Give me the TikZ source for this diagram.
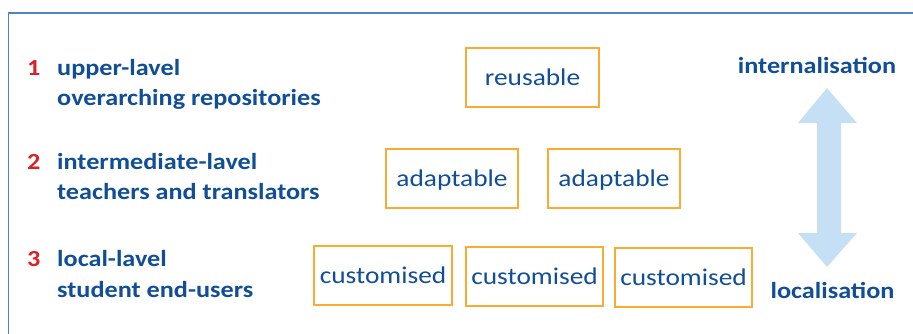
\documentclass[tikz,border=0pt]{standalone}
\usepackage{fontspec}
\setmainfont[FakeStretch=1.14]{Carlito}
\definecolor{txtblue}{RGB}{16,78,150}
\definecolor{numred}{RGB}{218,32,40}
\definecolor{boxorange}{RGB}{250,172,50}
\definecolor{arrowblue}{RGB}{197,224,244}
\definecolor{frameblue}{RGB}{84,130,190}
\tikzset{
  lbl/.style={inner sep=0pt, anchor=base west, text=txtblue, font=\fontsize{23}{27}\selectfont\bfseries},
  num/.style={inner sep=0pt, anchor=base west, text=numred, font=\fontsize{23}{27}\selectfont\bfseries},
  side/.style={inner sep=0pt, anchor=base, text=txtblue, font=\fontsize{23}{27}\selectfont\bfseries},
  cbox/.style={draw=boxorange, line width=1.2pt, text=txtblue, inner sep=0pt,
    minimum height=59pt, text height=15pt, text depth=0pt,
    font=\fontsize{24}{28}\selectfont},
}
\begin{document}
\begin{tikzpicture}[x=1pt,y=-1pt]
\useasboundingbox (0,0) rectangle (913,333);
\draw[frameblue, line width=1.3pt] (8.5,334) -- (8.5,13) -- (914,13);
% left labels
\node[num] (n1) at (27,75) {1};
\node[lbl] (l1a) at (57,75) {upper-lavel};
\node[lbl] (l1b) at (57,105) {overarching repositories};
\node[num] (n2) at (27,169) {2};
\node[lbl] (l2a) at (57,169) {intermediate-lavel};
\node[lbl] (l2b) at (57,199.5) {teachers and translators};
\node[num] (n3) at (27,266) {3};
\node[lbl] (l3a) at (57,266) {local-lavel};
\node[lbl] (l3b) at (57,297.5) {student end-users};
% boxes
\node[cbox, minimum width=133pt] (r1) at (532.5,77.5) {reusable};
\node[cbox, minimum width=132pt] (a1) at (452,178.5) {adaptable};
\node[cbox, minimum width=132pt] (a2) at (614,178.5) {adaptable};
\node[cbox, minimum width=138pt] (c1) at (383,275.5) {customised};
\node[cbox, minimum width=137pt] (c2) at (534.5,276.5) {customised};
\node[cbox, minimum width=137pt] (c3) at (683.5,277.5) {customised};
% double arrow
\fill[arrowblue] (827,88) -- (857,123) -- (841,123) -- (841,233) -- (857,233)
  -- (827,267) -- (798,233) -- (817,233) -- (817,123) -- (798,123) -- cycle;
\node[side] (int) at (817,73) {internalisation};
\node[side] (loc) at (832.5,298) {localisation};
\end{tikzpicture}
\end{document}
